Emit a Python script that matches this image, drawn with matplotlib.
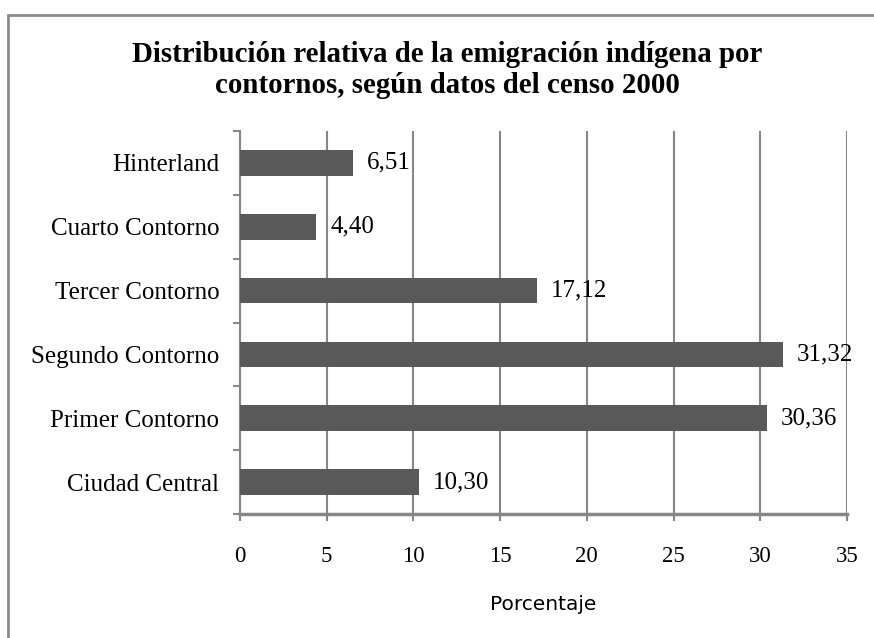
import matplotlib
matplotlib.use("Agg")
import matplotlib.pyplot as plt
from matplotlib.patches import Rectangle
import numpy as np

categories = ["Ciudad Central", "Primer Contorno", "Segundo Contorno",
              "Tercer Contorno", "Cuarto Contorno", "Hinterland"]
values = [10.30, 30.36, 31.32, 17.12, 4.40, 6.51]
value_labels = ["10,30", "30,36", "31,32", "17,12", "4,40", "6,51"]
xticks = [0, 5, 10, 15, 20, 25, 30, 35]
title_lines = ["Distribución relativa de la emigración indígena por",
               "contornos, según datos del censo 2000"]

W, H = 874, 638
fig = plt.figure(figsize=(W / 100, H / 100), dpi=100)
fig.patch.set_facecolor("white")

# outer chart border (extends beyond right/bottom edges)
fig.add_artist(Rectangle((8 / W, -0.05), 1.2, 1 - 15 / H + 0.05, transform=fig.transFigure,
                         fill=False, edgecolor="#8c8c8c", linewidth=2))

ax = fig.add_axes([240 / W, 1 - 514 / H, 607 / W, 383 / H])
gray = "#868686"
serif = "Liberation Serif"
y = np.arange(len(categories))
ax.barh(y, values, height=0.4, color="#595959", zorder=3)
for yi, v, lab in zip(y, values, value_labels):
    ax.annotate(lab, (v, yi), xytext=(10, 0), textcoords="offset points",
                ha="left", va="center", fontsize=18, family=serif, zorder=4)

ax.set_xlim(0, 35)
ax.set_ylim(-0.5, len(categories) - 0.5)
ax.set_xticks(xticks)
ax.set_xticklabels([str(t) for t in xticks], family=serif, fontsize=16.5)
ax.set_yticks(y)
ax.set_yticklabels(categories, family=serif, fontsize=18)
ax.set_yticks(np.arange(-0.5, len(categories), 1.0), minor=True)
ax.tick_params(axis="y", which="major", length=0, pad=15)
ax.tick_params(axis="y", which="minor", length=5, width=1.5, color=gray, direction="out")
ax.tick_params(axis="x", which="major", length=5, width=1.5, color=gray, direction="out", pad=18)
ax.grid(axis="x", color=gray, linewidth=1.5, zorder=0)
for s in ["top", "right"]:
    ax.spines[s].set_visible(False)
ax.spines["left"].set_color(gray)
ax.spines["left"].set_linewidth(1.5)
ax.spines["bottom"].set_color(gray)
ax.spines["bottom"].set_linewidth(2.5)
ax.set_xlabel("Porcentaje", family="Liberation Sans Narrow", fontsize=14.5)
ax.xaxis.label.set_va("baseline")
ax.xaxis.set_label_coords(0.5, (28 - 124) / 383)

for txt, base in zip(title_lines, [62, 93]):
    fig.text(447 / W, 1 - base / H, txt, ha="center", va="baseline",
             fontsize=20.8, fontweight="bold", family=serif)

fig.savefig("out.png", dpi=100, facecolor="white")
